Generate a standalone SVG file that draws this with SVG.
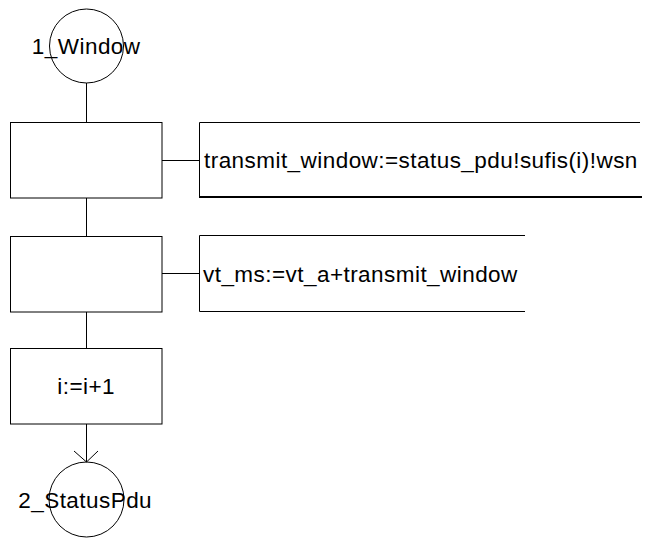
<svg xmlns="http://www.w3.org/2000/svg" width="648" height="540" viewBox="0 0 648 540">
  <style>
    .shape { fill: none; stroke: #000; stroke-width: 1; }
    .edge { fill: none; stroke: #000; stroke-width: 1; }
    .lbl { font-family: "Liberation Sans", Arial, sans-serif; font-size: 22.5px; letter-spacing: 0.45px; fill: #000; }
    .mid { text-anchor: middle; }
  </style>
  <rect width="648" height="540" fill="#fff"/>

  <g id="connectors">
    <line class="edge" x1="86.5" y1="83" x2="86.5" y2="122"/>
    <line class="edge" x1="86.5" y1="198" x2="86.5" y2="236"/>
    <line class="edge" x1="86.5" y1="312" x2="86.5" y2="348"/>
    <line class="edge" x1="86.5" y1="424" x2="86.5" y2="462"/>
    <polyline class="edge" points="74,451 86.5,462 98,451"/>
    <line class="edge" x1="162" y1="160.5" x2="199" y2="160.5"/>
    <line class="edge" x1="162" y1="273.5" x2="199" y2="273.5"/>
  </g>

  <g id="start">
    <circle class="shape" cx="86.5" cy="46" r="37"/>
    <text class="lbl mid" x="86.2" y="54">1_Window</text>
  </g>

  <g id="task1">
    <rect class="shape" x="10.5" y="122.5" width="151.5" height="75.5"/>
  </g>
  <g id="note1">
    <polyline class="shape" points="640,122.5 199.5,122.5 199.5,197"/>
    <line x1="199" y1="197" x2="642" y2="197" stroke="#000" stroke-width="2"/>
    <text class="lbl" x="204" y="168">transmit_window:=status_pdu!sufis(i)!wsn</text>
  </g>

  <g id="task2">
    <rect class="shape" x="10.5" y="236.5" width="151.5" height="75.5"/>
  </g>
  <g id="note2">
    <polyline class="shape" points="525,235.5 199.5,235.5 199.5,311.5 525,311.5"/>
    <text class="lbl" x="203" y="282">vt_ms:=vt_a+transmit_window</text>
  </g>

  <g id="task3">
    <rect class="shape" x="10.5" y="348.5" width="151.5" height="75.5"/>
    <text class="lbl mid" x="86.2" y="394">i:=i+1</text>
  </g>

  <g id="end">
    <circle class="shape" cx="86.5" cy="499.5" r="37.5"/>
    <text class="lbl mid" x="85.2" y="508">2_StatusPdu</text>
  </g>
</svg>
